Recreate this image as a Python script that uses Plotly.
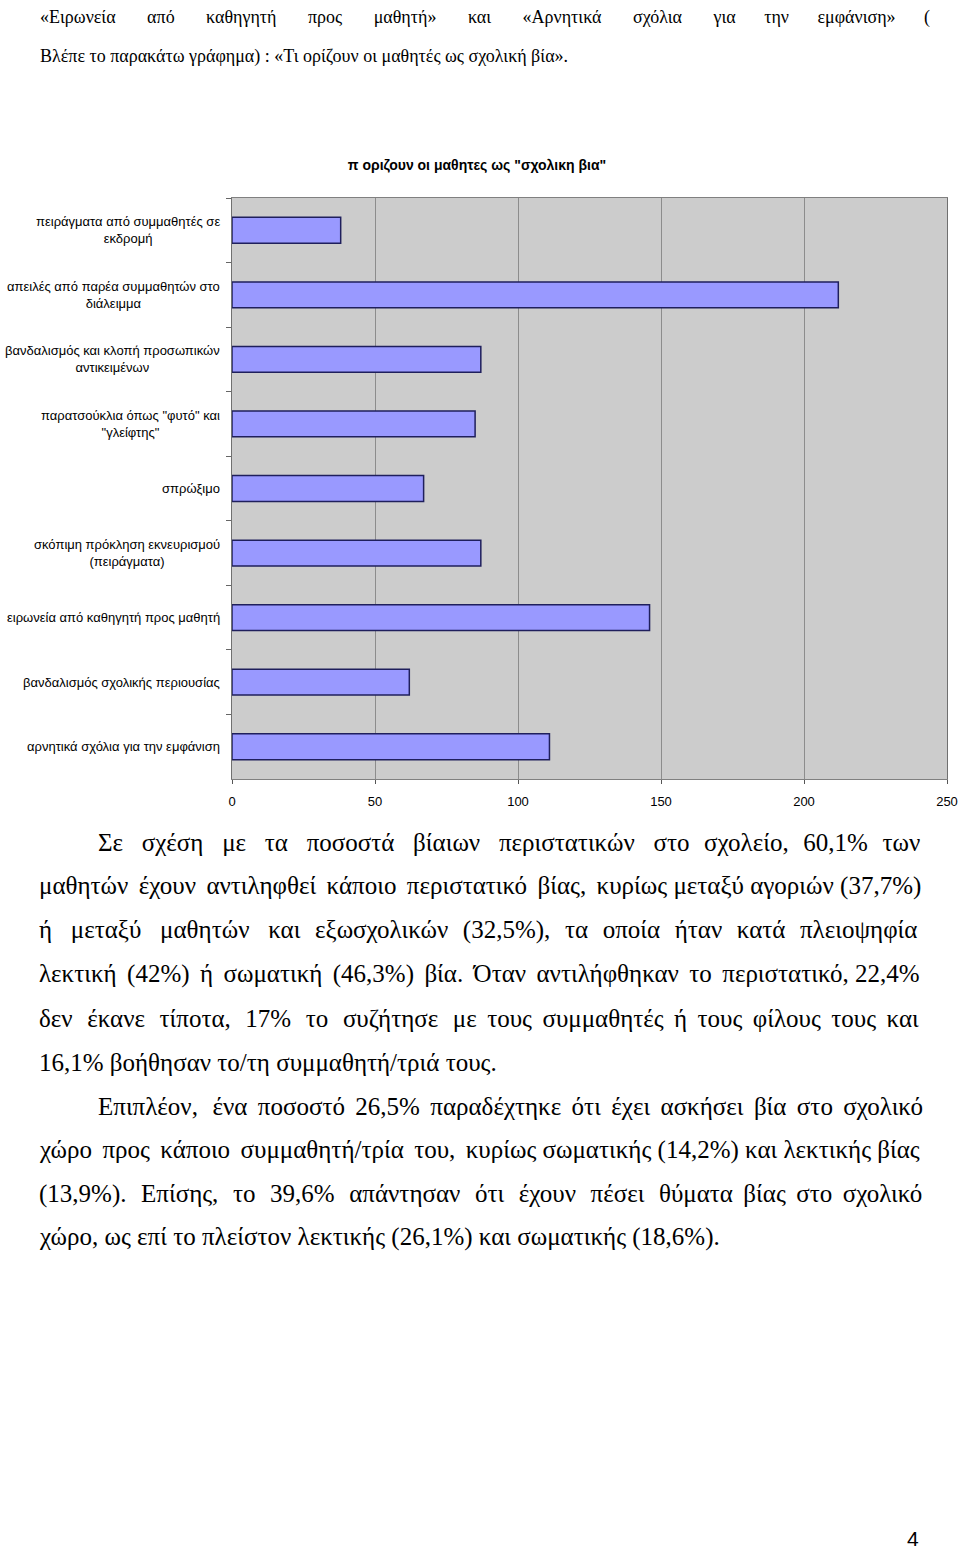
import plotly.graph_objects as go

# ---------------- data ----------------
categories = [
    "πειράγματα από συμμαθητές σε<br>εκδρομή",
    "απειλές από παρέα συμμαθητών στο<br>διάλειμμα",
    "βανδαλισμός και κλοπή προσωπικών<br>αντικειμένων",
    "παρατσούκλια όπως \"φυτό\" και<br>\"γλείφτης\"",
    "σπρώξιμο",
    "σκόπιμη πρόκληση εκνευρισμού<br>(πειράγματα)",
    "ειρωνεία από καθηγητή προς μαθητή",
    "βανδαλισμός σχολικής περιουσίας",
    "αρνητικά σχόλια για την εμφάνιση",
]
values = [38, 212, 87, 85, 67, 87, 146, 62, 111]
x_ticks = [0, 50, 100, 150, 200, 250]
chart_title = "π οριζουν οι μαθητες ως \"σχολικη βια\""

header_lines = [
    "«Ειρωνεία από καθηγητή προς μαθητή» και «Αρνητικά σχόλια για την εμφάνιση» (",
    "Βλέπε το παρακάτω γράφημα) : «Τι ορίζουν οι μαθητές ως σχολική βία».",
]
paragraph_lines = [
    "Σε σχέση με τα ποσοστά βίαιων περιστατικών στο σχολείο, 60,1% των",
    "μαθητών έχουν αντιληφθεί κάποιο περιστατικό βίας, κυρίως μεταξύ αγοριών (37,7%)",
    "ή μεταξύ μαθητών και εξωσχολικών (32,5%), τα οποία ήταν κατά πλειοψηφία",
    "λεκτική (42%) ή σωματική (46,3%) βία. Όταν αντιλήφθηκαν το περιστατικό, 22,4%",
    "δεν έκανε τίποτα, 17% το συζήτησε με τους συμμαθητές ή τους φίλους τους και",
    "16,1% βοήθησαν το/τη συμμαθητή/τριά τους.",
    "Επιπλέον, ένα ποσοστό 26,5% παραδέχτηκε ότι έχει ασκήσει βία στο σχολικό",
    "χώρο προς κάποιο συμμαθητή/τρία του, κυρίως σωματικής (14,2%) και λεκτικής βίας",
    "(13,9%). Επίσης, το 39,6% απάντησαν ότι έχουν πέσει θύματα βίας στο σχολικό",
    "χώρο, ως επί το πλείστον λεκτικής (26,1%) και σωματικής (18,6%).",
]
page_number = "4"

# ---------------- layout helpers ----------------
W, H = 960, 1550
def px(x):
    return x / W
def py(y):
    return 1 - y / H

serif = "Liberation Serif, Times New Roman, serif"
sans = "Liberation Sans, Arial, sans-serif"

# approximate natural text widths (px at 21px font) used for justification
para_nat21 = [595, 720, 658, 708, 672, 385, 653, 723, 675, 571]
para_justify = [True, True, True, True, True, False, True, True, True, False]
para_x = [100, 41, 41, 41, 41, 41, 100, 41, 41, 41]
para_y = [842, 886, 930, 974, 1018, 1062, 1106, 1150, 1194, 1237]
PARA_SIZE = 25
RIGHT_EDGE = 922

head_nat21 = [700, 615]
head_justify = [True, False]
head_y = [17, 57]
HEAD_SIZE = 18
HEAD_RIGHT = 930


def justify(text, nat21, size, left, right):
    words = text.split(" ")
    gaps = len(words) - 1
    natural = nat21 * size / 21.0
    extra = (right - left) - natural
    unit = size / 6.0  # U+2006 six-per-em space
    n = max(0, int(round(extra / unit)))
    base, rem = divmod(n, gaps)
    out = words[0]
    for i, w in enumerate(words[1:]):
        k = base + (1 if i < rem else 0)
        out += " " + "\u2006" * k + w
    return out


fig = go.Figure()
fig.add_trace(go.Bar(
    x=values, y=categories, orientation="h",
    width=0.4,
    marker=dict(color="#9999FF", line=dict(color="#1F1F5C", width=1.5)),
    hoverinfo="x+y",
))

annotations = []
for cat in categories:
    annotations.append(dict(
        x=px(222), xref="paper", y=cat, yref="y",
        text=cat, showarrow=False, xanchor="right", yanchor="middle",
        align="center", font=dict(family=sans, size=13, color="#000000"),
    ))

for t, nat, jus, yy in zip(header_lines, head_nat21, head_justify, head_y):
    txt = justify(t, nat, HEAD_SIZE, 42, HEAD_RIGHT) if jus else t
    annotations.append(dict(
        x=px(38), y=py(yy), xref="paper", yref="paper", text=txt,
        showarrow=False, xanchor="left", yanchor="middle",
        font=dict(family=serif, size=HEAD_SIZE, color="#000000"),
    ))

for t, nat, jus, xx, yy in zip(paragraph_lines, para_nat21, para_justify, para_x, para_y):
    txt = justify(t, nat, PARA_SIZE, xx, RIGHT_EDGE) if jus else t
    annotations.append(dict(
        x=px(xx - 4), y=py(yy), xref="paper", yref="paper", text=txt,
        showarrow=False, xanchor="left", yanchor="middle",
        font=dict(family=serif, size=PARA_SIZE, color="#000000"),
    ))

annotations.append(dict(
    x=px(913), y=py(1538), xref="paper", yref="paper", text=page_number,
    showarrow=False, xanchor="center", yanchor="middle",
    font=dict(family=sans, size=21, color="#000000"),
))

fig.update_layout(
    width=W, height=H, autosize=False,
    margin=dict(l=0, r=0, t=0, b=0, autoexpand=False),
    paper_bgcolor="#FFFFFF",
    plot_bgcolor="#CCCCCC",
    showlegend=False,
    bargap=0.6,
    title=dict(
        text="<b>" + chart_title + "</b>",
        x=px(477), xanchor="center", y=py(165), yanchor="middle",
        font=dict(family=sans, size=14, color="#000000"),
    ),
    xaxis=dict(
        domain=[px(232), px(947)],
        range=[0, 250],
        tickvals=x_ticks,
        ticks="outside", ticklen=4, tickcolor="#555555",
        showgrid=True, gridcolor="#8C8C8C", gridwidth=1,
        showline=True, linecolor="#808080", linewidth=1, mirror=True,
        zeroline=False,
        tickfont=dict(family=sans, size=13, color="#000000"),
        ticklabelstandoff=6,
        automargin=False,
        fixedrange=True,
    ),
    yaxis=dict(
        domain=[py(779), py(198)],
        autorange="reversed",
        type="category",
        tickson="boundaries",
        ticks="outside", ticklen=5, tickcolor="#666666",
        showticklabels=False,
        showgrid=False,
        showline=True, linecolor="#707070", linewidth=1, mirror=True,
        automargin=False,
        fixedrange=True,
    ),
    annotations=annotations,
)

fig.write_html("out.html")
